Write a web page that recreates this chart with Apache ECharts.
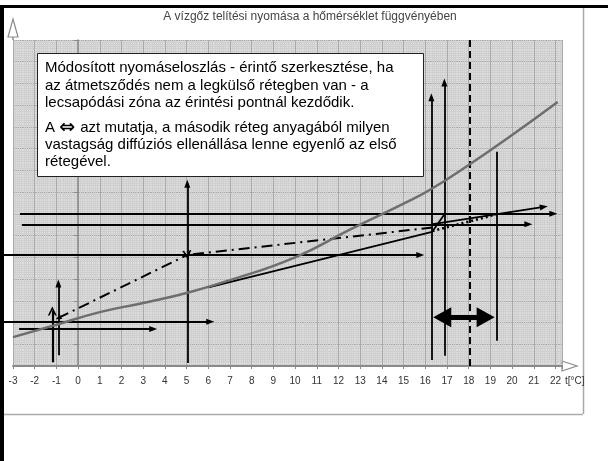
<!DOCTYPE html>
<html><head><meta charset="utf-8">
<script src="https://cdn.jsdelivr.net/npm/echarts@6/dist/echarts.min.js"></script>
<style>html,body{margin:0;padding:0;background:#fff}#c{width:608px;height:461px}</style>
</head><body><div id="c"></div>
<script>
// ---- data (temperature °C on x, relative vapour pressure units on y) ----
const titleText = 'A vízgőz telítési nyomása a hőmérséklet függvényében';
const xAxisName = 't[°C]';
const xTickLabels = [-3,-2,-1,0,1,2,3,4,5,6,7,8,9,10,11,12,13,14,15,16,17,18,19,20,21,22];
const curveTemp     = [-3,  -1,  1,    3,   5,    7,    10,  12.5, 15,   16.2, 18,   20,    22.1];
const curvePressure = [1.33, 1.9, 2.48, 2.9, 3.36, 3.95, 5.0, 6.26, 7.47, 8.1,  9.25, 10.63, 12.15];
// segments: [t1, p1, t2, p2]  (arrow at second point)
const arrowSegments = [
  [-2.68, 7.0, 21.9, 7.0],
  [-2.59, 6.52, 20.75, 6.52],
  [-3.6, 5.11, 15.77, 5.11],
  [-3.6, 2.04, 6.09, 2.04],
  [-2.72, 1.70, 3.46, 1.70],
  [5.03, 0.14, 5.03, 8.38],
  [-0.91, 0.5, -0.91, 3.8],
  [16.28, 0.28, 16.28, 12.37],
  [16.88, 0.47, 16.88, 13.04],
  [16.28, 6.52, 21.46, 7.32]
];
const boldArrowSegments = [[-1.19, 0.17, -1.19, 2.53]];
const plainSegments = [
  [19.29, 1.16, 19.29, 9.86],
  [6.01, 3.62, 16.31, 6.17],
  [16.31, 6.17, 16.86, 6.95]
];
const dashedSegments = [[18.03, 0, 18.03, 15]];
const dottedSegments = [[16.33, 6.21, 19.28, 6.98]];
const dashDotSegments = [[-0.91, 2.21, 5.03, 5.11], [16.33, 6.37, 5.03, 5.11]];
const doubleArrow = [16.78, 2.24, 18.78, 2.24];
const boxLines = [
  'Módosított nyomáseloszlás - érintő szerkesztése, ha',
  'az átmetsződés nem a legkülső rétegben van - a',
  'lecsapódási zóna az érintési pontnál kezdődik.',
  'A {s|\u21D4} azt mutatja, a második réteg anyagából milyen',
  'vastagság diffúziós ellenállása lenne egyenlő az első',
  'rétegével.'
];

function seg(s, startSym, endSym, startSize, endSize, style) {
  return [
    {coord:[s[0], s[1]], symbol:startSym, symbolSize:startSize, lineStyle:style},
    {coord:[s[2], s[3]], symbol:endSym, symbolSize:endSize}
  ];
}
const black = '#000';
const thin = {color:black, width:1.8, type:'solid'};
const ml = [];
arrowSegments.forEach(s => ml.push(seg(s,'none','triangle',0,[6,8],thin)));
boldArrowSegments.forEach(s => ml.push(seg(s,'none','path://M0,9 L5,0 L10,9 L8,9 L5,3.5 L2,9 Z',0,[9,9],{color:black,width:2.2,type:'solid'})));
plainSegments.forEach(s => ml.push(seg(s,'none','none',0,0,thin)));
dashedSegments.forEach(s => ml.push(seg(s,'none','none',0,0,{color:black,width:2,type:[7,4]})));
dottedSegments.forEach(s => ml.push(seg(s,'none','none',0,0,{color:black,width:2.6,type:[2,3]})));
ml.push(seg(dashDotSegments[0],'triangle','none',[5,6],0,{color:black,width:2,type:[11,5,2,5]}));
ml.push(seg(dashDotSegments[1],'none','path://M10,0 L0,5 L10,10 L10,8 L4,5 L10,2 Z',0,[9,9],{color:black,width:2,type:[11,5,2,5]}));
ml.push(seg(doubleArrow,'triangle','triangle',[20,18],[20,18],{color:black,width:5,type:'solid'}));

const chart = echarts.init(document.getElementById('c'), null, {renderer:'canvas'});
const textBox = [];
const lineY = [68, 85.5, 103, 128, 145, 162];
textBox.push({type:'rect', z:100, shape:{x:37.5,y:53.5,width:386,height:123}, style:{fill:'#fff',stroke:'#222',lineWidth:1}});
boxLines.forEach((t,i)=>textBox.push({type:'text', z:101, x:45, y:lineY[i], style:{text:t, fill:'#000', font:'15px "Liberation Sans", Arial, sans-serif', verticalAlign:'middle',
  rich:{s:{font:'bold 19px "DejaVu Sans"', fill:'#000', verticalAlign:'middle', padding:[0,1,0,0]}}}}));

const gridBox = {left:13, right:46, top:40, bottom:95};
chart.setOption({
  animation:false,
  backgroundColor:'#fff',
  grid:[
    Object.assign({show:true, backgroundColor:'#dedede', borderWidth:0}, gridBox),
    {left:0, right:46, top:40, bottom:95, show:false}
  ],
  xAxis:[{
    type:'value', gridIndex:0, min:-3, max:22.3, interval:1, z:2,
    axisLine:{show:true, lineStyle:{color:'#8a8a8a', width:2}},
    axisTick:{show:true, length:3, lineStyle:{color:'#8a8a8a'}},
    axisLabel:{color:'#333', fontSize:10, margin:10, fontFamily:'"Liberation Sans", Arial',
      formatter:v => xTickLabels.includes(v) ? String(v) : ''},
    splitLine:{show:true, lineStyle:{color:'#a9a9a9', width:1}},
    minorTick:{show:false, splitNumber:10},
    minorSplitLine:{show:true, lineStyle:{color:'#cfcfcf', width:1}}
  },{
    type:'value', gridIndex:0, min:-3, max:22.3, interval:0.5, z:1, position:'bottom',
    axisLine:{show:false}, axisTick:{show:false}, axisLabel:{show:false},
    splitLine:{show:true, lineStyle:{color:'#bdbdbd', width:1}}
  },{
    type:'value', gridIndex:1, min:-3.6, max:22.3, show:false, splitLine:{show:false}
  }],
  yAxis:[{
    type:'value', gridIndex:0, min:0, max:15, interval:1, z:2,
    axisLine:{show:true, lineStyle:{color:'#8a8a8a', width:1.5}},
    axisTick:{show:true, length:4, lineStyle:{color:'#8a8a8a'}},
    axisLabel:{show:false},
    splitLine:{show:true, lineStyle:{color:'#a9a9a9', width:1}},
    minorTick:{show:false, splitNumber:10},
    minorSplitLine:{show:true, lineStyle:{color:'#cfcfcf', width:1}}
  },{
    type:'value', gridIndex:0, min:0, max:15, interval:0.5, z:1, position:'left',
    axisLine:{show:false}, axisTick:{show:false}, axisLabel:{show:false},
    splitLine:{show:true, lineStyle:{color:'#bdbdbd', width:1}}
  },{
    type:'value', gridIndex:1, min:0, max:15, show:false, splitLine:{show:false}
  }],
  series:[{
    type:'line', xAxisIndex:0, yAxisIndex:0, smooth:true, symbol:'none', z:5,
    lineStyle:{color:'#6e6e6e', width:2.5},
    data: curveTemp.map((t,i)=>[t, curvePressure[i]])
  },{
    type:'line', xAxisIndex:2, yAxisIndex:2, data:[], clip:false, z:6,
    markLine:{silent:true, animation:false, label:{show:false}, emphasis:{disabled:true},
      symbol:['none','none'], data: ml}
  }],
  graphic:[
    {type:'rect', shape:{x:0,y:5,width:608,height:3}, style:{fill:'#000'}},
    {type:'rect', shape:{x:0,y:5,width:4,height:456}, style:{fill:'#000'}},
    {type:'line', shape:{x1:583.5,y1:8,x2:583.5,y2:414}, style:{stroke:'#aaa',lineWidth:1.5}},
    {type:'line', shape:{x1:4,y1:414.5,x2:583,y2:414.5}, style:{stroke:'#aaa',lineWidth:1.5}},
    {type:'line', shape:{x1:13,y1:37,x2:13,y2:40}, style:{stroke:'#8a8a8a',lineWidth:1.5}},
    {type:'polygon', shape:{points:[[13,19],[18,37],[8,37]]}, style:{fill:'#fff',stroke:'#8a8a8a',lineWidth:1.2}},
    {type:'polygon', shape:{points:[[562,361],[577,366],[562,371]]}, style:{fill:'#fff',stroke:'#8a8a8a',lineWidth:1.2}},
    {type:'text', x:565, y:381, style:{text:xAxisName, fill:'#333', font:'10px "Liberation Sans", Arial', verticalAlign:'middle'}},
    {type:'text', x:310, y:17, style:{text:titleText, fill:'#444', font:'12px "Liberation Sans", Arial', align:'center', verticalAlign:'middle'}},
    ...textBox
  ]
});
</script></body></html>
